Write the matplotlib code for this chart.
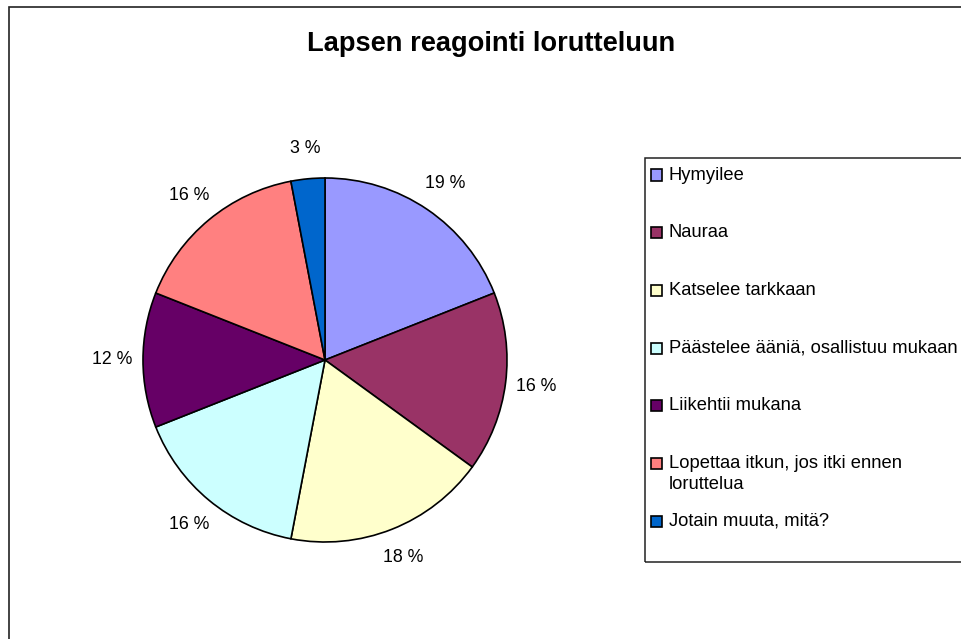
import matplotlib.pyplot as plt
from matplotlib.patches import Rectangle

plt.rcParams['font.family'] = ['Liberation Sans', 'DejaVu Sans']

title = "Lapsen reagointi lorutteluun"
labels = ["Hymyilee", "Nauraa", "Katselee tarkkaan",
          "Päästelee ääniä, osallistuu mukaan", "Liikehtii mukana",
          "Lopettaa itkun, jos itki ennen\nloruttelua", "Jotain muuta, mitä?"]
values = [19, 16, 18, 16, 12, 16, 3]
colors = ["#9999FF", "#993366", "#FFFFCC", "#CCFFFF", "#660066", "#FF8080", "#0066CC"]

W, H = 961, 639
fig = plt.figure(figsize=(W / 100, H / 100), dpi=100)

# outer chart border (cut off on the right and bottom)
fig.patches.append(Rectangle((8.5 / W, -0.5), 2, 1.5 - 6.5 / H, transform=fig.transFigure,
                             fill=False, edgecolor="#222222", linewidth=1.2))

fig.text(491 / W, 1 - 44 / H, title, ha="center", va="center",
         fontsize=19.6, fontweight="bold")

# pie: centre (325, 360) px, radius 182 px
r = 182
cx, cy = 325, 360
side = 2.5 * r
ax = fig.add_axes([(cx - side / 2) / W, (H - cy - side / 2) / H, side / W, side / H])
wedges, texts = ax.pie(values, colors=colors, startangle=90, counterclock=False,
                       wedgeprops=dict(edgecolor="black", linewidth=1.2),
                       labels=[f"{v} %" for v in values], labeldistance=1.17,
                       textprops=dict(fontsize=12.8))
for t in texts:
    t.set_ha("center")
    t.set_va("center")
ax.set_xlim(-1.25, 1.25)
ax.set_ylim(-1.25, 1.25)

# legend box
fig.patches.append(Rectangle((644.5 / W, 1 - 562 / H), 1, (562 - 158) / H,
                             transform=fig.transFigure, fill=False,
                             edgecolor="#222222", linewidth=1.1))
for i, (lab, col) in enumerate(zip(labels, colors)):
    y = 175 + i * 57.7
    fig.patches.append(Rectangle((651 / W, 1 - (y + 5.5) / H), 11 / W, 11 / H,
                                 transform=fig.transFigure, facecolor=col,
                                 edgecolor="black", linewidth=1.2))
    fig.text(669 / W, 1 - (y - 8.5) / H, lab, ha="left", va="top",
             fontsize=13.2, linespacing=1.3)

fig.savefig("out.png", dpi=100, facecolor="white")
